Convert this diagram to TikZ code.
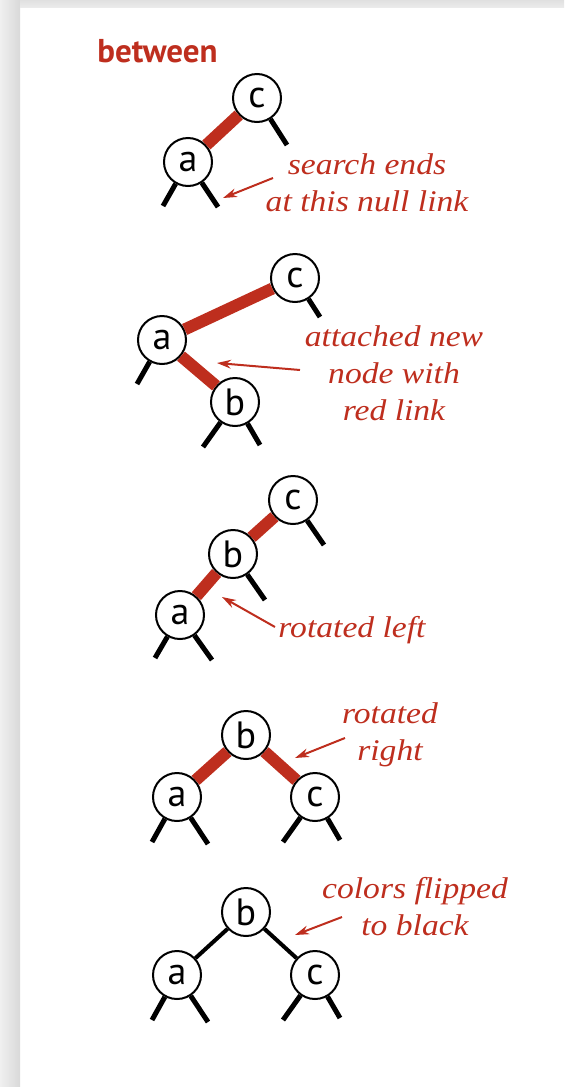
\documentclass[tikz,border=0pt]{standalone}
\usepackage{fontspec}
\setmainfont{Liberation Serif}[FakeStretch = 1.12]
\setsansfont{PT Sans}
\usepackage{tikz}
\usetikzlibrary{arrows.meta}
\definecolor{linkred}{RGB}{190,46,30}

\begin{document}
\begin{tikzpicture}[x=0.5pt, y=-0.5pt]
\tikzstyle{key}=[circle, minimum size = 24pt, inner sep = 0pt, line width = 1pt, draw = black, fill = white, font = \sffamily\fontsize{19}{19}\selectfont]
\tikzstyle{note}=[inner sep = 0pt, align = center, text = linkred, font = \itshape\fontsize{15}{18.5}\selectfont]
\tikzstyle{title}=[inner sep = 0pt, text = linkred, font = \sffamily\bfseries\fontsize{16.5}{16.5}\selectfont]
\tikzstyle{redlink}=[draw = linkred, line width = 6pt]
\tikzstyle{blacklink}=[draw = black, line width = 2pt]
\tikzstyle{nulllink}=[draw = black, line width = 2.5pt]
\tikzstyle{pointer}=[-{Stealth[length = 7pt, width = 4.4pt]}, draw = linkred, line width = 1pt]

  \useasboundingbox (0,0) rectangle (564,1087);
  \shade[left color = black!6, right color = black!15] (0,0) rectangle (20,1087);
  \shade[top color = black!12, bottom color = black!8] (20,0) rectangle (564,7);

  \node[title, anchor = base west] (between) at (97,62) {between};

  \node[key] (c1) at (257,98)  {c};
  \node[key] (a1) at (188,162) {a};
  \coordinate (c1r) at (287,145);
  \coordinate (a1l) at (163,206);
  \coordinate (a1r) at (218,207);
  \node[note, anchor = base] (note1) at (367,211) {search ends\\at this null link};
  \coordinate (p1) at (273,178);
  \coordinate (q1) at (223,198);

  \node[key] (c2) at (295,278) {c};
  \node[key] (a2) at (162,340) {a};
  \node[key] (b2) at (235,402) {b};
  \coordinate (c2r) at (320,317);
  \coordinate (a2l) at (137,384);
  \coordinate (b2l) at (203,447);
  \coordinate (b2r) at (260,445);
  \node[note, anchor = base] (note2) at (394,420) {attached new\\node with\\red link};
  \coordinate (p2) at (300,370);
  \coordinate (q2) at (217,363);

  \node[key] (c3) at (293,500) {c};
  \node[key] (b3) at (233,554) {b};
  \node[key] (a3) at (180,615) {a};
  \coordinate (c3r) at (324,545);
  \coordinate (b3r) at (265,600);
  \coordinate (a3l) at (155,658);
  \coordinate (a3r) at (212,660);
  \node[note, anchor = base west] (note3) at (278,637) {rotated left};
  \coordinate (p3) at (275,627);
  \coordinate (q3) at (222,597);

  \node[key] (b4) at (246,735) {b};
  \node[key] (a4) at (177,797) {a};
  \node[key] (c4) at (315,797) {c};
  \coordinate (a4l) at (152,842);
  \coordinate (a4r) at (208,844);
  \coordinate (c4l) at (283,842);
  \coordinate (c4r) at (340,840);
  \node[note, anchor = base] (note4) at (390,760) {rotated\\right};
  \coordinate (p4) at (345,738);
  \coordinate (q4) at (295,758);

  \node[key] (b5) at (246,912) {b};
  \node[key] (a5) at (177,975) {a};
  \node[key] (c5) at (315,975) {c};
  \coordinate (a5l) at (152,1020);
  \coordinate (a5r) at (208,1022);
  \coordinate (c5l) at (283,1020);
  \coordinate (c5r) at (340,1018);
  \node[note, anchor = base] (note5) at (415,935) {colors flipped\\to black};
  \coordinate (p5) at (342,917);
  \coordinate (q5) at (295,935);

  \path (a1) edge [redlink] (c1)
        (c1) edge [nulllink] (c1r)
        (a1) edge [nulllink] (a1l)
        (a1) edge [nulllink] (a1r)
        (p1) edge [pointer] (q1);

  \path (a2) edge [redlink] (c2)
        (a2) edge [redlink] (b2)
        (c2) edge [nulllink] (c2r)
        (a2) edge [nulllink] (a2l)
        (b2) edge [nulllink] (b2l)
        (b2) edge [nulllink] (b2r)
        (p2) edge [pointer] (q2);

  \path (b3) edge [redlink] (c3)
        (a3) edge [redlink] (b3)
        (c3) edge [nulllink] (c3r)
        (b3) edge [nulllink] (b3r)
        (a3) edge [nulllink] (a3l)
        (a3) edge [nulllink] (a3r)
        (p3) edge [pointer] (q3);

  \path (b4) edge [redlink] (a4)
        (b4) edge [redlink] (c4)
        (a4) edge [nulllink] (a4l)
        (a4) edge [nulllink] (a4r)
        (c4) edge [nulllink] (c4l)
        (c4) edge [nulllink] (c4r)
        (p4) edge [pointer] (q4);

  \path (b5) edge [blacklink] (a5)
        (b5) edge [blacklink] (c5)
        (a5) edge [nulllink] (a5l)
        (a5) edge [nulllink] (a5r)
        (c5) edge [nulllink] (c5l)
        (c5) edge [nulllink] (c5r)
        (p5) edge [pointer] (q5);

\end{tikzpicture}
\end{document}
